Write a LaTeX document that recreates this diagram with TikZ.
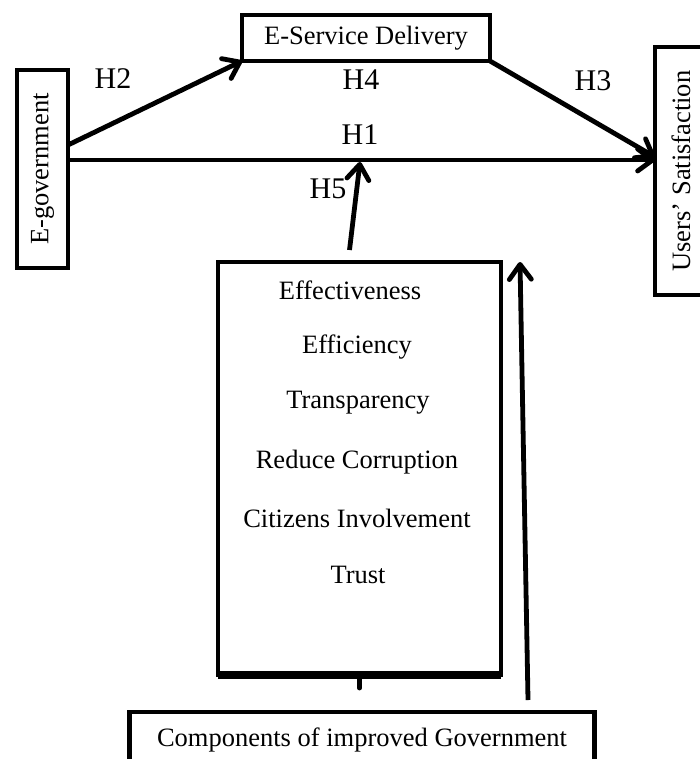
\documentclass[tikz,border=0pt]{standalone}
\usepackage{fontspec}
\setmainfont{Liberation Serif}
\usetikzlibrary{arrows.meta}
\begin{document}
\begin{tikzpicture}[x=1pt,y=-1pt,
  box/.style={draw, line width=4.8pt, outer sep=0pt, inner sep=0pt, font=\fontsize{26.5}{30}\selectfont},
  lbl/.style={font=\fontsize{30}{34}\selectfont, inner sep=0pt},
  item/.style={font=\fontsize{26.5}{30}\selectfont, inner sep=0pt},
  conn/.style={line width=4.8pt, -{Straight Barb[length=15pt,width=22pt,round]}},
  plain/.style={line width=4.8pt, line cap=round},
]
\useasboundingbox (0,0) rectangle (700,759);
\clip (0,0) rectangle (700,759);

% boxes
\node[box, minimum width=51pt, minimum height=198pt] (eg) at (42.5,169) {\rotatebox{90}{E-government}};
\node[box, minimum width=248pt, minimum height=46pt] (esd) at (366,38) {E-Service Delivery};
\node[box, minimum width=52pt, minimum height=248pt] (us) at (681,171) {\rotatebox{90}{Users’ Satisfaction}};
\node[box, minimum width=283pt, minimum height=413pt] (comp) at (359.5,468.5) {};
\node[box, minimum width=465pt, minimum height=56pt] (cig) at (362,740) {Components of improved Government};

% items inside components box
\node[item] (i1) at (350,290) {Effectiveness};
\node[item] (i2) at (357,347) {Efficiency};
\node[item] (i3) at (358,403) {Transparency};
\node[item] (i4) at (357,462) {Reduce Corruption};
\node[item] (i5) at (357,518) {Citizens Involvement};
\node[item] (i6) at (358,575) {Trust};

% thicker bottom of components box and stub
\draw[line width=8pt] (comp.south west) -- (comp.south east);
\draw[plain] (comp.south) -- ++(0,13);

% hypothesis labels
\node[lbl] (h2) at (113,79) {H2};
\node[lbl] (h4) at (361,80) {H4};
\node[lbl] (h3) at (593,81) {H3};
\node[lbl] (h1) at (360,135) {H1};
\node[lbl] (h5) at (328,189) {H5};

% connectors
\coordinate (h5t) at (360,162);
\draw[conn] ([yshift=9pt]eg.east) -- ([yshift=11pt]us.west);
\draw[conn] ([yshift=24pt]eg.east) -- (esd.south west);
\draw[conn] (esd.south east) -- ([yshift=14pt]us.west);
\draw[conn] ([xshift=-10pt,yshift=12pt]comp.north) -- (h5t);
\draw[conn] ([xshift=166pt,yshift=12pt]cig.north) -- ([xshift=19pt]comp.north east);
\end{tikzpicture}
\end{document}
